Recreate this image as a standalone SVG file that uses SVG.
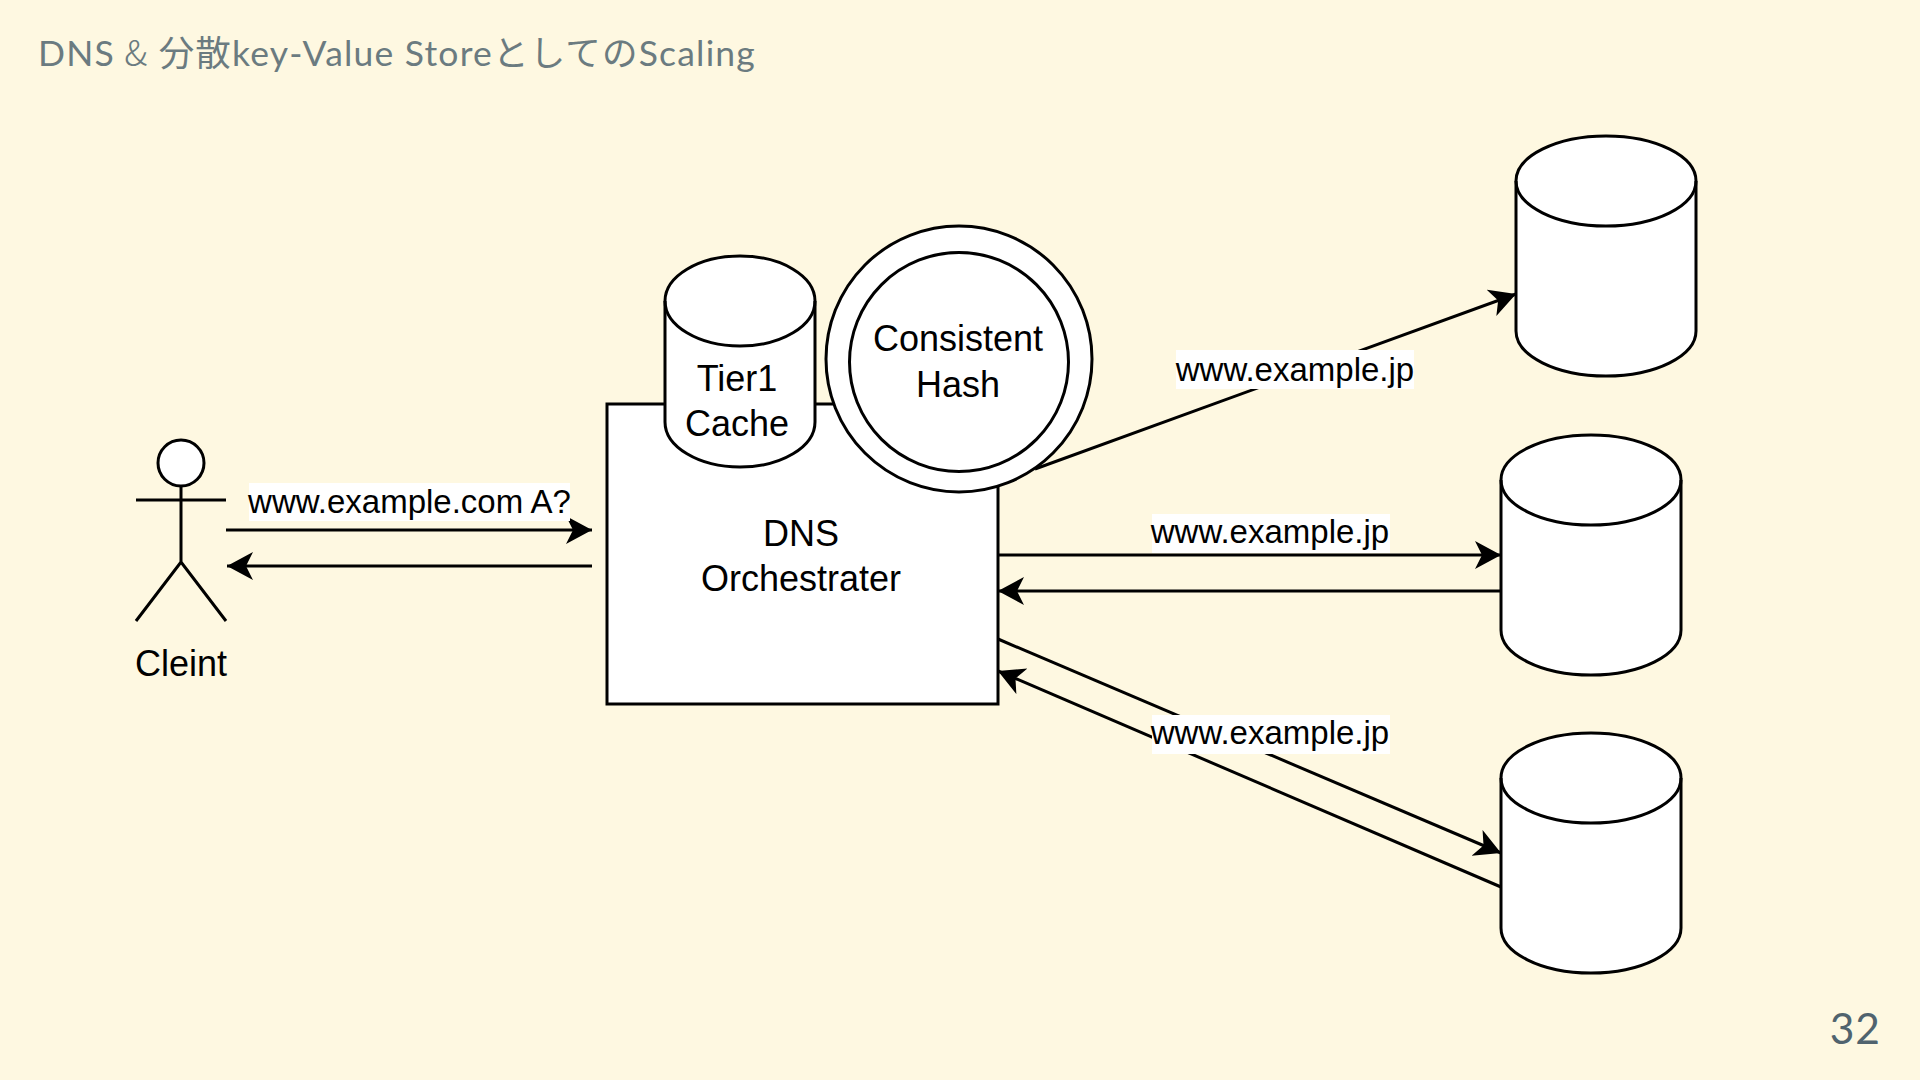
<svg xmlns="http://www.w3.org/2000/svg" width="1920" height="1080" viewBox="0 0 1920 1080">
<style>
.s{fill:#fff;stroke:#000;stroke-width:3}
.l{fill:none;stroke:#000;stroke-width:3}
.t{font-family:"Liberation Sans",Arial,sans-serif;font-size:36px;fill:#000;text-anchor:middle}
.e{font-size:33px}
.bg{fill:#fff}
</style>
<defs>
<marker id="a" markerUnits="userSpaceOnUse" markerWidth="30" markerHeight="30" refX="26" refY="14" orient="auto"><path d="M0 0L26 14L0 28L7 14Z" fill="#000"/></marker>
</defs>
<rect width="1920" height="1080" fill="#fef8e1"/>
<text x="38" y="66" font-family="Lato,'Noto Sans CJK JP',sans-serif" font-size="35.500" letter-spacing="1.2" fill="#6b7b80">DNS <tspan font-family="'Noto Sans CJK JP',sans-serif" font-weight="300" dx="-1">&amp;</tspan> 分散key-Value Storeとしての<tspan>Scaling</tspan></text>
<text x="1881" y="1044" text-anchor="end" font-family="Lato,sans-serif" font-size="42.500" letter-spacing="1" fill="#50636e">32</text>
<g id="connectors">
<path class="l" d="M226 530H592" marker-end="url(#a)"/>
<path class="l" d="M592 566H227" marker-end="url(#a)"/>
<path class="l" d="M1035 469L1516 294" marker-end="url(#a)"/>
<path class="l" d="M998 555H1501" marker-end="url(#a)"/>
<path class="l" d="M1501 591H998" marker-end="url(#a)"/>
<path class="l" d="M998 639L1501 853" marker-end="url(#a)"/>
<path class="l" d="M1501 887L998 671" marker-end="url(#a)"/>
<rect class="bg" x="249" y="483" width="321" height="38"/>
<text class="t e" x="409.500" y="513">www.example.com A?</text>
<rect class="bg" x="1176" y="350" width="238" height="39"/>
<text class="t e" x="1295" y="381">www.example.jp</text>
<rect class="bg" x="1152" y="514" width="238" height="39"/>
<text class="t e" x="1270" y="543">www.example.jp</text>
<rect class="bg" x="1152" y="715" width="238" height="39"/>
<text class="t e" x="1270" y="744">www.example.jp</text>
</g>
<g id="actor">
<circle class="s" cx="181" cy="463" r="23"/>
<path class="l" d="M181 486V562M136 500H226M136 621L181 562L226 621"/>
<text class="t" x="181" y="676">Cleint</text>
</g>
<g id="orchestrator">
<rect class="s" x="607" y="404" width="391" height="300"/>
<text class="t" x="801" y="546">DNS</text>
<text class="t" x="801" y="591">Orchestrater</text>
</g>
<g id="cache">
<path class="s" d="M665 301A75 45 0 0 1 815 301V422A75 45 0 0 1 665 422Z"/>
<path class="l" d="M665 301A75 45 0 0 0 815 301"/>
<text class="t" x="737" y="391">Tier1</text>
<text class="t" x="737" y="436">Cache</text>
</g>
<g id="hash">
<circle class="s" cx="959" cy="359" r="133"/>
<circle class="s" cx="959" cy="362" r="109.500"/>
<text class="t" x="958" y="351">Consistent</text>
<text class="t" x="958" y="397">Hash</text>
</g>
<g id="db1">
<path class="s" d="M1516 181A90 45 0 0 1 1696 181V331A90 45 0 0 1 1516 331Z"/>
<path class="l" d="M1516 181A90 45 0 0 0 1696 181"/>
</g>
<g id="db2">
<path class="s" d="M1501 480A90 45 0 0 1 1681 480V630A90 45 0 0 1 1501 630Z"/>
<path class="l" d="M1501 480A90 45 0 0 0 1681 480"/>
</g>
<g id="db3">
<path class="s" d="M1501 778A90 45 0 0 1 1681 778V928A90 45 0 0 1 1501 928Z"/>
<path class="l" d="M1501 778A90 45 0 0 0 1681 778"/>
</g>
</svg>
